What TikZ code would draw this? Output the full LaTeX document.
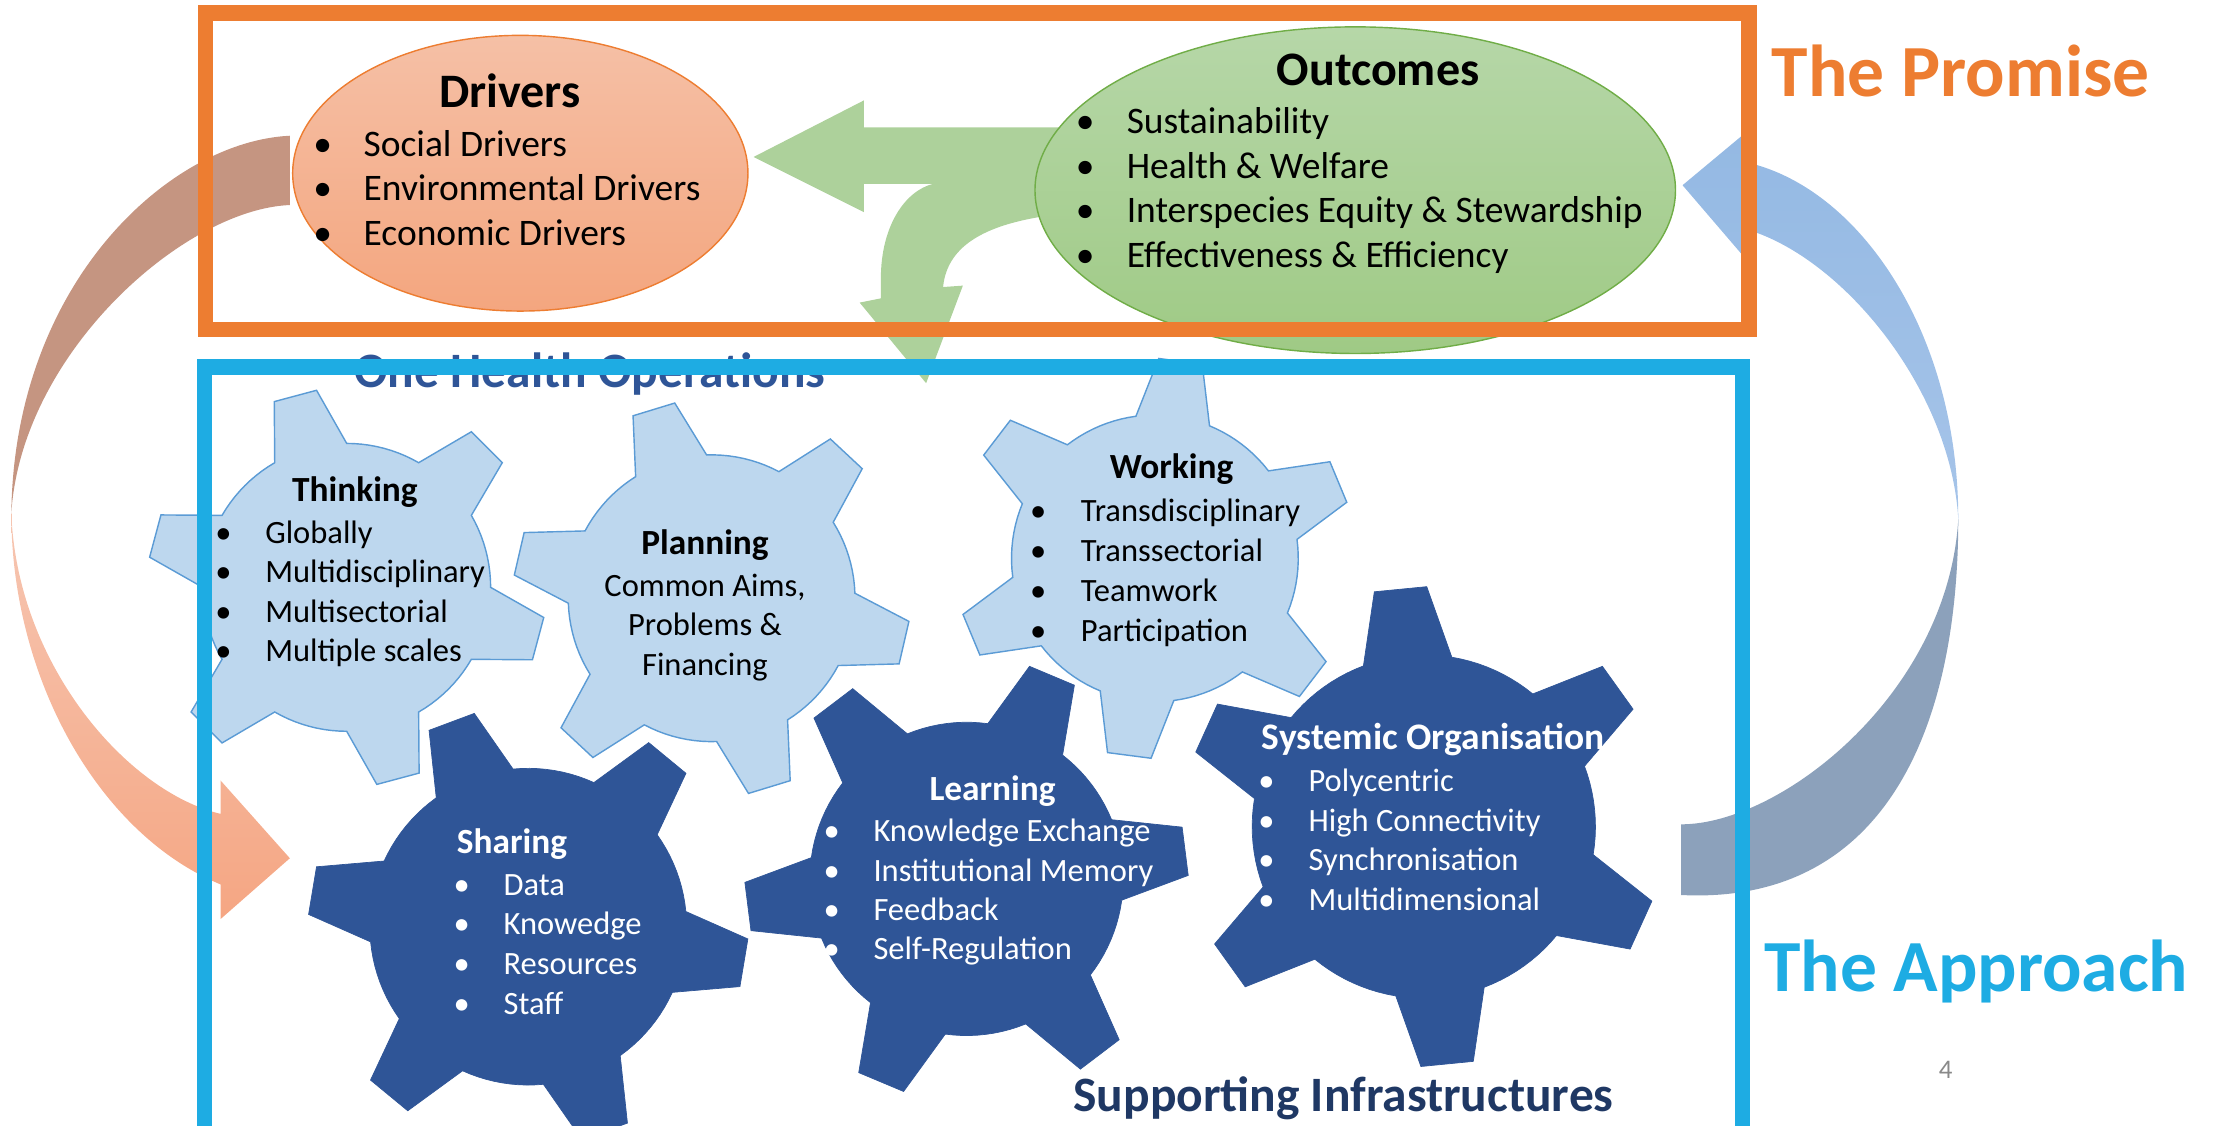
\documentclass[tikz,border=0pt]{standalone}
\usepackage{fontspec}
\setmainfont{Carlito}

\definecolor{promise}{RGB}{237,125,49}
\definecolor{approach}{RGB}{30,172,227}
\definecolor{drvtop}{RGB}{245,192,166}
\definecolor{drvbot}{RGB}{244,166,127}
\definecolor{outtop}{RGB}{182,215,168}
\definecolor{outbot}{RGB}{159,202,133}
\definecolor{outline}{RGB}{112,173,71}
\definecolor{greenarrow}{RGB}{173,209,155}
\definecolor{tan}{RGB}{197,149,129}
\definecolor{salmontop}{RGB}{246,198,178}
\definecolor{salmonbot}{RGB}{245,166,131}
\definecolor{skytop}{RGB}{148,185,227}
\definecolor{skybot}{RGB}{166,196,233}
\definecolor{slate}{RGB}{140,161,187}
\definecolor{cogfill}{RGB}{189,215,238}
\definecolor{cogline}{RGB}{91,155,213}
\definecolor{cogdark}{RGB}{47,85,151}
\definecolor{navy}{RGB}{31,56,100}
\definecolor{pagegray}{RGB}{137,137,137}

% centre, body radius, tooth radius, phase, style
\newcommand{\gearshape}[5]{%
  \begin{scope}[shift={#1}]
    \draw[#5] (#4-15:#2)
      \foreach \k in {0,...,5}{
        -- ({#4+60*\k-6.3}:#3) -- ({#4+60*\k+6.3}:#3) -- ({#4+60*\k+15}:#2)
        \foreach \s in {1,...,10}{ -- ({#4+60*\k+15+3*\s}:#2) }
      } -- cycle;
  \end{scope}}

% name, bullet x, text x, first baseline, step, style, items
\newcommand{\itemlist}[7]{%
  \foreach \txt [count=\i] in {#7}{
    \node[bulletdot, #6] (#1-dot\i) at (#2, {#4+#5*(\i-1)}) {\textbullet};
    \node[entry, #6] (#1-\i) at (#3, {#4+#5*(\i-1)}) {\txt};
  }}

\begin{document}
\begin{tikzpicture}[x=1pt, y=-1pt,
  boxline/.style={line width=11pt},
  lightcog/.style={fill=cogfill, draw=cogline, line width=1pt},
  darkcog/.style={fill=cogdark, draw=cogdark, line width=0.5pt},
  bulletdot/.style={anchor=base, inner sep=0pt},
  entry/.style={anchor=base west, inner sep=0pt},
  big/.style={font=\fontsize{26.5}{30}\selectfont},
  small/.style={font=\fontsize{23}{26}\selectfont},
  head/.style={anchor=base, inner sep=0pt, font=\bfseries\fontsize{34}{38}\selectfont},
  cogtitle/.style={inner sep=0pt, font=\bfseries\fontsize{25}{30}\selectfont},
  banner/.style={anchor=base west, inner sep=0pt, font=\bfseries\fontsize{35}{40}\selectfont},
  sidelabel/.style={anchor=base west, inner sep=0pt, font=\bfseries\fontsize{52}{60}\selectfont}]

\useasboundingbox (0,0) rectangle (1568,796);
\clip (0,0) rectangle (1568,796);

% curved arrow on the left
\fill[tan] (205,96) .. controls (120,100) and (10,200) .. (8,363)
  .. controls (15,250) and (130,148) .. (205,145) -- cycle;
\shade[top color=salmontop, bottom color=salmonbot]
  (8,363) .. controls (8,480) and (70,590) .. (156,625.5)
  -- (156,650) -- (205,607) -- (156,552) -- (156,575.6)
  .. controls (90,560) and (12,470) .. (8,363) -- cycle;

% curved arrow on the right
\shade[top color=skytop, bottom color=skybot]
  (1190,131) -- (1232,96) -- (1232,114) -- (1243.5,117)
  .. controls (1320,140) and (1385,240) .. (1385,367)
  .. controls (1380,280) and (1310,190) .. (1243.5,165)
  -- (1232,162) -- (1232,180) -- cycle;
\fill[slate] (1385,367) .. controls (1385,520) and (1330,640) .. (1189,633)
  -- (1189,583) .. controls (1260,583) and (1378,490) .. (1385,367) -- cycle;

% green arrow out of the outcomes
\fill[greenarrow] (533,111) -- (611,71) -- (611,90) -- (760,90) -- (760,152) -- (745,152)
  .. controls (700,158) and (670,172) .. (667,203) -- (681,202) -- (655,271) -- (608,214)
  -- (623,211) -- (623,197) .. controls (623,160) and (640,135) .. (660,130)
  -- (611,130) -- (611,150) -- cycle;

\shadedraw[top color=drvtop, bottom color=drvbot, draw=promise, line width=1pt]
  (368,122.5) ellipse [x radius=161, y radius=97.5];
\shadedraw[top color=outtop, bottom color=outbot, draw=outline, line width=1pt]
  (958.5,134.5) ellipse [x radius=226.5, y radius=115.5];

\node[head] (drivers) at (360.5,75.7) {Drivers};
\itemlist{drv}{228.2}{257}{110.6}{31.5}{big}{Social Drivers, Environmental Drivers, Economic Drivers}
\node[head] (outcomes) at (974.7,60.6) {Outcomes};
\itemlist{out}{767.6}{796.7}{94.7}{31.4}{big}{Sustainability, Health \& Welfare,
  Interspecies Equity \& Stewardship, Effectiveness \& Efficiency}

\node[banner, text=cogdark] (operations) at (250.5,274) {One Health Operations};

% gears
\gearshape{(245.2,415.4)}{101.8}{141}{15}{lightcog}
\gearshape{(503.3,423.1)}{101.4}{140.5}{13}{lightcog}
\gearshape{(816.8,394.9)}{101.4}{141.4}{37.4}{lightcog}
\gearshape{(373.6,655.4)}{112}{155.6}{9.5}{darkcog}
\gearshape{(683.6,621.6)}{110.8}{156.8}{52.8}{darkcog}
\gearshape{(1007,584.6)}{121.4}{169.7}{24.4}{darkcog}

\node[cogtitle, anchor=base] (thinking) at (251,354.8) {Thinking};
\itemlist{think}{158}{187.4}{384.3}{27.9}{small}{Globally, Multidisciplinary, Multisectorial, Multiple scales}

\node[cogtitle, anchor=base] (planning) at (498.6,392.5) {Planning};
\foreach \txt [count=\i] in {{Common Aims,}, Problems \&, Financing}
  \node[small, anchor=base, inner sep=0pt] (plan-\i) at (498.6, {422+27.7*(\i-1)}) {\txt};

\node[cogtitle, anchor=base] (working) at (828.6,338.3) {Working};
\itemlist{work}{734.3}{764.3}{368.9}{28.3}{small}{Transdisciplinary, Transsectorial, Teamwork, Participation}

\node[cogtitle, anchor=base west, text=white] (sharing) at (323,603.5) {Sharing};
\itemlist{share}{326.5}{356}{633}{28.25}{small, text=white}{Data, Knowedge, Resources, Staff}

\node[cogtitle, anchor=base, text=white] (learning) at (702,565.8) {Learning};
\itemlist{learn}{588.2}{617.6}{595.2}{27.9}{small, text=white}{Knowledge Exchange, Institutional Memory,
  Feedback, Self-Regulation}

\node[cogtitle, anchor=base west, text=white, font=\bfseries\fontsize{26.5}{30}\selectfont]
  (systemic) at (892.3,530.4) {Systemic Organisation};
\itemlist{sys}{895.8}{925.3}{559.9}{27.9}{small, text=white}{Polycentric, High Connectivity,
  Synchronisation, Multidimensional}

% the two frames
\draw[boxline, promise] (145.2,9.2) rectangle (1237,232.9);
\draw[boxline, approach] (144.5,259.5) rectangle (1232.5,830);

\node[banner, text=navy] (infra) at (759,786) {Supporting Infrastructures};
\node[sidelabel, text=promise] (thepromise) at (1253,68.2) {The Promise};
\node[sidelabel, text=approach] (theapproach) at (1247.5,701.5) {The Approach};
\node[anchor=base, inner sep=0pt, text=pagegray, font=\fontsize{19}{22}\selectfont] (page) at (1376,763) {4};

\end{tikzpicture}
\end{document}
